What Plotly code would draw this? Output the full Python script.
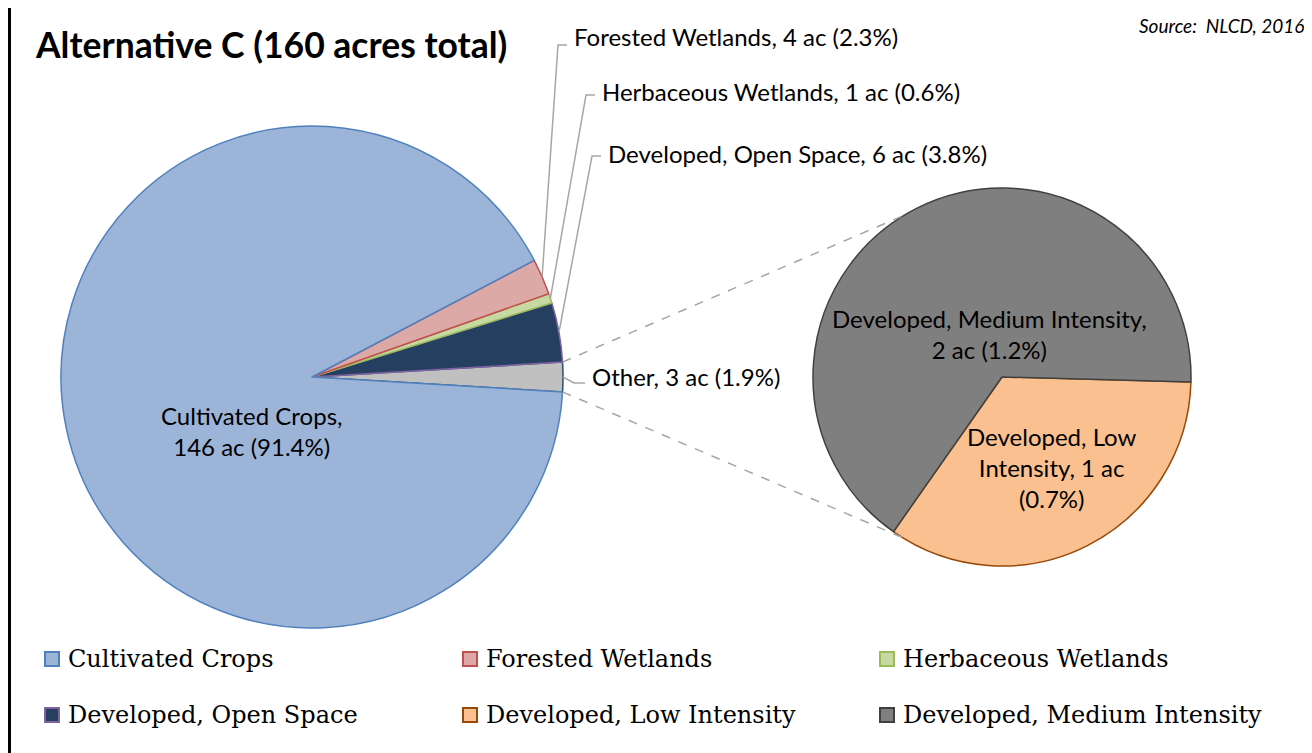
import math
import plotly.graph_objects as go

W, H = 1312, 753
# the page body keeps its default 8px margin, so the figure starts at (8, 8)
OX, OY = 8, 8
FW, FH = W - OX, H - OY

# main pie (acres), "Other" is the sum of the breakout pie
main_labels = ['Developed, Open Space', 'Herbaceous Wetlands', 'Forested Wetlands', 'Cultivated Crops']
main_acres = [6.1, 1.0, 3.7, 146.2]
main_fill = ['#243f60', '#c6d9a3', '#dca9a7', '#9db4d9']
main_edge = ['#8064a2', '#9bbb59', '#c0504d', '#4f81bd']

# breakout pie
other_labels = ['Developed, Low Intensity', 'Developed, Medium Intensity']
other_acres = [1.04, 1.99]
other_fill = ['#fac090', '#7f7f7f']
other_edge = ['#984807', '#404040']

data_labels = {
    'Cultivated Crops': 'Cultivated Crops,<br>146 ac (91.4%)',
    'Forested Wetlands': 'Forested Wetlands, 4 ac (2.3%)',
    'Herbaceous Wetlands': 'Herbaceous Wetlands, 1 ac (0.6%)',
    'Developed, Open Space': 'Developed, Open Space, 6 ac (3.8%)',
    'Other': 'Other, 3 ac (1.9%)',
    'Developed, Low Intensity': 'Developed, Low<br>Intensity, 1 ac<br>(0.7%)',
    'Developed, Medium Intensity': 'Developed, Medium Intensity,<br>2 ac (1.2%)',
}

legend_order = ['Cultivated Crops', 'Forested Wetlands', 'Herbaceous Wetlands',
                'Developed, Open Space', 'Developed, Low Intensity', 'Developed, Medium Intensity']

# pixel geometry (page coords) of the two pies
cx1, cy1, r1 = 312, 377, 251
cx2, cy2, r2 = 1002, 377, 189


def px(x):
    return (x - OX) / FW


def py(y):
    return 1 - (y - OY) / FH


def dom(cx, cy, r):
    return dict(x=[px(cx - r), px(cx + r)], y=[py(cy + r), py(cy - r)])


def arc_point(cx, cy, r, clock_deg):
    t = math.radians(clock_deg)
    return cx + r * math.sin(t), cy - r * math.cos(t)


def slice_angles(values, rotation, direction):
    # mirrors plotly.js: counterclockwise pies start one slice ahead
    total = sum(values)
    a = rotation
    sign = 1
    if direction == 'counterclockwise':
        a += 360 * values[0] / total
        sign = -1
    out = []
    for v in values:
        span = 360 * v / total
        out.append((a, a + sign * span / 2, a + sign * span))
        a += sign * span
    return out


other_total = sum(other_acres)
left_labels = ['Other'] + main_labels
left_values = [other_total] + main_acres
left_fill = ['#c0c0c0'] + main_fill
left_edge = ['#2c4d75'] + main_edge
other_deg = 360 * other_total / sum(left_values)
rot1 = 90 - other_deg / 2
rot2 = 91.5

fig = go.Figure()
fig.add_trace(go.Pie(
    labels=left_labels, values=left_values, sort=False,
    direction='counterclockwise', rotation=rot1,
    marker=dict(colors=left_fill, line=dict(color=left_edge, width=1.5)),
    textinfo='none', hoverinfo='label+percent', showlegend=False,
    domain=dom(cx1, cy1, r1),
))
fig.add_trace(go.Pie(
    labels=other_labels, values=other_acres, sort=False,
    direction='clockwise', rotation=rot2,
    marker=dict(colors=other_fill, line=dict(color=other_edge, width=1.5)),
    textinfo='none', hoverinfo='label+percent', showlegend=False,
    domain=dom(cx2, cy2, r2),
))

shapes = []
annotations = []
lbl_font = dict(family='Lato', size=24, color='black')

# outer frame (left edge only is inside the page)
shapes.append(dict(type='line', xref='paper', yref='paper',
                   x0=px(9.5), x1=px(9.5), y0=-0.05, y1=1.05,
                   line=dict(color='black', width=3)))

# dashed connectors between pies
ang1 = slice_angles(left_values, rot1, 'counterclockwise')
p_bot = arc_point(cx1, cy1, r1, ang1[0][0])
p_top = arc_point(cx1, cy1, r1, ang1[0][2])
q_top = arc_point(cx2, cy2, r2, 329)
q_bot = arc_point(cx2, cy2, r2, 212)
for a, b in [(p_top, q_top), (p_bot, q_bot)]:
    shapes.append(dict(type='line', xref='paper', yref='paper',
                       x0=px(a[0]), y0=py(a[1]), x1=px(b[0]), y1=py(b[1]),
                       line=dict(color='#a6a6a6', width=1.5, dash='dash')))

# leader-line labels for the small slices (text left x, text y, tick y offset)
leader_pos = {
    'Forested Wetlands': (572, 37, 8),
    'Herbaceous Wetlands': (600, 92, 3),
    'Developed, Open Space': (606, 153, 3),
    'Other': (590, 376, 7),
}
for lab, (s, mid, e) in zip(left_labels, ang1):
    if lab not in leader_pos:
        continue
    tx, ty, dy = leader_pos[lab]
    ax_, ay_ = arc_point(cx1, cy1, r1, mid)
    if lab == 'Other':
        path = [(ax_, ay_), (tx - 16, ty + dy), (tx - 5, ty + dy)]
    else:
        path = [(ax_, ay_), (tx - 14, ty + dy), (tx - 5, ty + dy)]
    d = 'M ' + ' L '.join(f'{px(x):.5f},{py(y):.5f}' for x, y in path)
    shapes.append(dict(type='path', xref='paper', yref='paper', path=d,
                       line=dict(color='#a6a6a6', width=1.5)))
    annotations.append(dict(x=px(tx), y=py(ty), xref='paper', yref='paper',
                            text=data_labels[lab], showarrow=False,
                            xanchor='left', yanchor='middle', font=lbl_font))

# labels inside slices
inside_pos = {
    'Cultivated Crops': (251, 431),
    'Developed, Medium Intensity': (989, 334),
    'Developed, Low Intensity': (1052, 467),
}
for lab, (x, y) in inside_pos.items():
    annotations.append(dict(x=px(x), y=py(y), xref='paper', yref='paper',
                            text=data_labels[lab], showarrow=False, align='center',
                            xanchor='center', yanchor='middle', font=lbl_font))

# title and source
annotations.append(dict(x=px(33), y=py(44), xref='paper', yref='paper',
                        text='<b>Alternative C (160 acres total)</b>', showarrow=False,
                        xanchor='left', yanchor='middle',
                        font=dict(family='Lato', size=35.5, color='black')))
annotations.append(dict(x=px(1306), y=py(25), xref='paper', yref='paper',
                        text='<i>Source:  NLCD, 2016</i>', showarrow=False,
                        xanchor='right', yanchor='middle',
                        font=dict(family='Lato', size=19, color='black')))

# legend (2 rows x 3 columns)
fill_of = dict(zip(left_labels + other_labels, left_fill + other_fill))
edge_of = dict(zip(left_labels + other_labels, left_edge + other_edge))
col_x = [45, 463, 880]
row_y = [659, 715]
for i, lab in enumerate(legend_order):
    x0 = col_x[i % 3]
    y0 = row_y[i // 3]
    shapes.append(dict(type='rect', xref='paper', yref='paper',
                       x0=px(x0), x1=px(x0 + 14), y0=py(y0 + 7), y1=py(y0 - 7),
                       fillcolor=fill_of[lab], line=dict(color=edge_of[lab], width=2)))
    annotations.append(dict(x=px(x0 + 21), y=py(y0), xref='paper', yref='paper',
                            text=lab, showarrow=False, xanchor='left', yanchor='middle',
                            font=dict(family='DejaVu Serif', size=24, color='black')))

fig.update_layout(
    width=FW, height=FH,
    margin=dict(l=0, r=0, t=0, b=0),
    paper_bgcolor='white', plot_bgcolor='white',
    shapes=shapes, annotations=annotations,
    showlegend=False,
)

fig.write_html("out.html")
